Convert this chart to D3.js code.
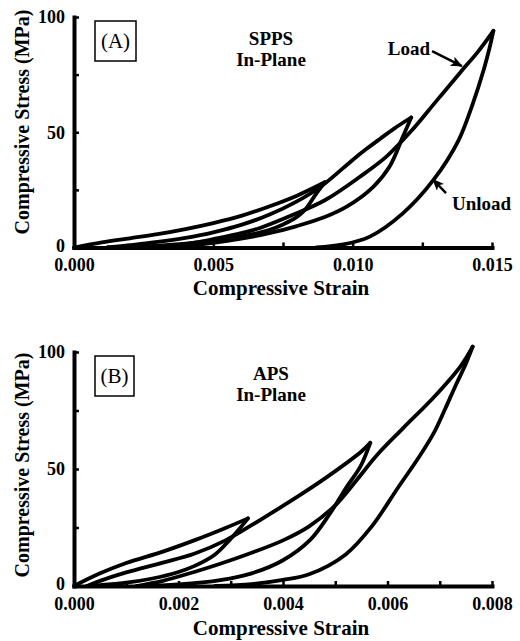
<!DOCTYPE html>
<html>
<head>
<meta charset="utf-8">
<script src="https://cdn.jsdelivr.net/npm/d3@7"></script>
<style>
  body { margin: 0; background: #fff; }
  text { font-family: "Liberation Serif", "Times New Roman", serif; }
</style>
</head>
<body>
<script>
// ---- data (strain, stress MPa) ----
// panel A: SPPS in-plane
const aLoad1 = [[0,0],[0.001,2.2],[0.002,4.0],[0.003,5.8],[0.004,8.0],[0.005,10.6],[0.006,13.7],[0.007,17.8],[0.008,22.5],[0.009,28.3]]
const aUnload1 = [[0.009,28.3],[0.0087,23.5],[0.0083,16.5],[0.008,13.3],[0.0075,10],[0.007,7.6],[0.006,4.8],[0.005,3],[0.004,1.7],[0.003,0.8],[0.002,0.2],[0.0012,0]]
const aLoad2 = [[0.0012,0],[0.002,1.0],[0.003,2.4],[0.004,4.2],[0.005,6.6],[0.006,9.8],[0.007,14.2],[0.008,20],[0.0089,26.8],[0.01,38],[0.0105,42.8],[0.011,47.3],[0.0115,51.7],[0.0121,56.4]]
const aUnload2 = [[0.0121,56.4],[0.0118,48],[0.01132,35],[0.01073,26.2],[0.0098,17.8],[0.009,13.2],[0.008,9.3],[0.007,6.2],[0.006,3.8],[0.005,2],[0.004,0.7],[0.003,0]]
const aLoad3 = [[0.003,0],[0.004,1.4],[0.0045,2.4],[0.005,3.6],[0.006,6.2],[0.0067,8.6],[0.0079,14.4],[0.009,20.5],[0.01025,30.6],[0.0112,39.3],[0.0121,50.5],[0.013,63.5],[0.0139,76.5],[0.0145,85],[0.01505,94]]
const aUnload3 = [[0.01505,94],[0.0149,86],[0.0147,77],[0.0143,62],[0.0138,46.5],[0.0129,29.3],[0.0118,14.8],[0.0106,4.6],[0.0096,1.2],[0.0087,0]]

// panel B: APS in-plane
const bLoad1 = [[0,0],[0.0005,5.4],[0.001,9.8],[0.0017,14.7],[0.0023,19.5],[0.0029,24.8],[0.00333,28.9]]
const bUnload1 = [[0.00333,28.9],[0.00315,24],[0.00298,19.7],[0.0027,13.5],[0.0023,8.5],[0.002,6],[0.0015,3.2],[0.001,1.4],[0.0005,0.4],[0.00025,0]]
const bLoad2 = [[0.00025,0],[0.0005,2.2],[0.001,5.8],[0.0017,10],[0.0023,13.8],[0.0029,19.5],[0.0034,26],[0.0038,31.5],[0.0043,38.5],[0.0049,47.5],[0.0055,57.5],[0.00567,61.2]]
const bUnload2 = [[0.00567,61.2],[0.00548,51],[0.00522,42.4],[0.0049,31],[0.00452,19.7],[0.004,11],[0.0034,5.4],[0.0028,2.5],[0.002,0.7],[0.0012,0]]
const bLoad3 = [[0.0012,0],[0.0017,2.2],[0.0023,6],[0.0028,9.5],[0.0034,14.2],[0.004,19.5],[0.0045,25.5],[0.005,34.5],[0.0054,45],[0.0058,56],[0.0063,67.5],[0.0069,81],[0.0074,94],[0.00763,102.3]]
const bUnload3 = [[0.00763,102.3],[0.0075,95],[0.0073,85.5],[0.0071,75.5],[0.0069,66],[0.0066,55],[0.0062,42],[0.0057,25.5],[0.0052,13.5],[0.0045,5],[0.004,2.6],[0.0034,0.8],[0.0027,0]]

// ticks
const aStrainTicks = [0, 0.0025, 0.005, 0.0075, 0.01, 0.0125, 0.015]
const aStrainLabels = [0, 0.005, 0.01, 0.015]
const bStrainTicks = [0, 0.001, 0.002, 0.003, 0.004, 0.005, 0.006, 0.007, 0.008]
const bStrainLabels = [0, 0.002, 0.004, 0.006, 0.008]
const stressTicks = [0, 25, 50, 75, 100]
const stressLabels = [0, 50, 100]

// annotations for panel A: [strain, stress]
const loadArrow = [[0.01285, 85.2], [0.01392, 78.7]]
const unloadArrow = [[0.01335, 23.6], [0.01288, 29.5]]

const width = 520, height = 641
const left = 74, right = 492

const svg = d3.select("body").append("svg")
	.attr("width", width)
	.attr("height", height)

svg.append("defs").append("marker")
	.attr("id", "head")
	.attr("markerUnits", "userSpaceOnUse")
	.attr("viewBox", "0 0 12 10")
	.attr("refX", 11)
	.attr("refY", 5)
	.attr("markerWidth", 12)
	.attr("markerHeight", 10)
	.attr("orient", "auto")
	.append("path")
	.attr("d", "M0,0 L12,5 L0,10 L3,5 z")
	.attr("fill", "#000")

const isLabel = (list, d) => list.some(v => Math.abs(v - d) < 1e-9)

function drawPanel(p) {
	const x = d3.scaleLinear().domain([0, p.xMax]).range([left, right])
	const y = d3.scaleLinear().domain([0, 100]).range([p.bottom, p.top])
	const g = svg.append("g")

	const line = d3.line()
		.x(d => x(d[0]))
		.y(d => y(d[1]))
		.curve(d3.curveCatmullRom.alpha(0.5))

	g.selectAll("path.curve")
		.data(p.curves)
		.enter().append("path")
		.attr("class", "curve")
		.attr("d", line)
		.attr("fill", "none")
		.attr("stroke", "#000")
		.attr("stroke-width", 3.8)
		.attr("stroke-linejoin", "round")
		.attr("stroke-linecap", "round")

	const xAxis = d3.axisBottom(x)
		.tickValues(p.xTicks)
		.tickSizeInner(-5)
		.tickSizeOuter(0)
		.tickPadding(11)
		.tickFormat(d => isLabel(p.xLabels, d) ? d3.format(".3f")(d) : "")
	const xg = g.append("g")
		.attr("transform", `translate(0,${p.bottom})`)
		.call(xAxis)

	const yAxis = d3.axisLeft(y)
		.tickValues(stressTicks)
		.tickSizeInner(-5)
		.tickSizeOuter(0)
		.tickPadding(9)
		.tickFormat(d => isLabel(stressLabels, d) ? d : "")
	const yg = g.append("g")
		.attr("transform", `translate(${left},0)`)
		.call(yAxis)

	for (const ax of [xg, yg]) {
		ax.select(".domain").attr("stroke-width", 4).attr("stroke-linecap", "square")
		ax.selectAll(".tick line").attr("stroke-width", 2.5)
		ax.selectAll(".tick text")
			.attr("font-size", 18)
			.attr("font-weight", "bold")
			.attr("fill", "#000")
	}
	// keep the "0" stress label clear of the strain labels below it
	yg.selectAll(".tick text").filter(d => d === 0).attr("dy", "0.2em")

	g.append("text")
		.attr("x", 281)
		.attr("y", p.xTitleY)
		.attr("text-anchor", "middle")
		.attr("font-size", 21)
		.attr("font-weight", "bold")
		.text("Compressive Strain")

	g.append("text")
		.attr("transform", `translate(28.5,${p.yTitleY}) rotate(-90)`)
		.attr("text-anchor", "middle")
		.attr("font-size", 20)
		.attr("font-weight", "bold")
		.text("Compressive Stress (MPa)")

	// panel letter box
	g.append("rect")
		.attr("x", 95)
		.attr("y", p.top + 4)
		.attr("width", p.boxW)
		.attr("height", 40)
		.attr("fill", "none")
		.attr("stroke", "#000")
		.attr("stroke-width", 1.5)
	g.append("text")
		.attr("x", 95 + p.boxW / 2)
		.attr("y", p.top + 31)
		.attr("text-anchor", "middle")
		.attr("font-size", 21)
		.text(p.letter)

	g.append("text")
		.attr("x", 271)
		.attr("y", p.top + 28)
		.attr("text-anchor", "middle")
		.attr("font-size", 19)
		.attr("font-weight", "bold")
		.text(p.name)
	g.append("text")
		.attr("x", 271)
		.attr("y", p.top + 49)
		.attr("text-anchor", "middle")
		.attr("font-size", 19)
		.attr("font-weight", "bold")
		.text("In-Plane")

	return {x, y, g}
}

const A = drawPanel({
	xMax: 0.015, top: 17, bottom: 247.5,
	xTicks: aStrainTicks, xLabels: aStrainLabels,
	curves: [aLoad1, aUnload1, aLoad2, aUnload2, aLoad3, aUnload3],
	xTitleY: 294.5, yTitleY: 122,
	letter: "(A)", boxW: 41, name: "SPPS"
})

drawPanel({
	xMax: 0.008, top: 352, bottom: 586,
	xTicks: bStrainTicks, xLabels: bStrainLabels,
	curves: [bLoad1, bUnload1, bLoad2, bUnload2, bLoad3, bUnload3],
	xTitleY: 635, yTitleY: 465,
	letter: "(B)", boxW: 39, name: "APS"
})

// Load / Unload annotations on panel A
for (const arr of [loadArrow, unloadArrow]) {
	A.g.append("line")
		.attr("x1", A.x(arr[0][0]))
		.attr("y1", A.y(arr[0][1]))
		.attr("x2", A.x(arr[1][0]))
		.attr("y2", A.y(arr[1][1]))
		.attr("stroke", "#000")
		.attr("stroke-width", 2.5)
		.attr("marker-end", "url(#head)")
}

A.g.append("text")
	.attr("x", A.x(loadArrow[0][0]) - 2)
	.attr("y", A.y(loadArrow[0][1]) + 4)
	.attr("text-anchor", "end")
	.attr("font-size", 19)
	.attr("font-weight", "bold")
	.text("Load")

A.g.append("text")
	.attr("x", A.x(unloadArrow[0][0]) + 6)
	.attr("y", A.y(unloadArrow[0][1]) + 17)
	.attr("font-size", 19)
	.attr("font-weight", "bold")
	.text("Unload")
</script>
</body>
</html>
